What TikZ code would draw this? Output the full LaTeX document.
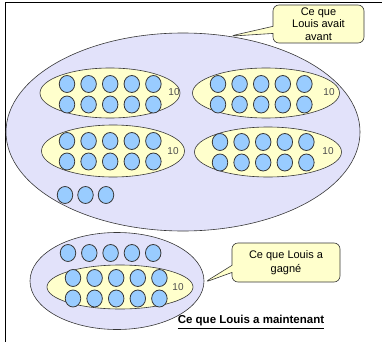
\documentclass[tikz,border=0pt]{standalone}
\usepackage{fontspec}
\setmainfont{Liberation Sans}
\usetikzlibrary{shapes.geometric,shapes.callouts}

\definecolor{lavande}{RGB}{226,226,250}
\definecolor{creme}{RGB}{255,255,204}
\definecolor{bleu}{RGB}{153,204,255}
\definecolor{trait}{RGB}{55,55,55}

\tikzset{
  ensemble/.style={ellipse, draw=trait, fill=lavande, line width=0.6pt, inner sep=0pt},
  dizaine/.style={ellipse, draw=trait, fill=creme, line width=0.6pt, inner sep=0pt},
  bille/.style={ellipse, draw=trait, fill=bleu, line width=0.8pt, inner sep=0pt,
    minimum width=15.5pt, minimum height=17pt},
  dix/.style={font=\fontsize{10}{10}\selectfont, text=black!70},
  bulle/.style={rectangle callout, rounded corners=6pt, draw=trait, fill=creme,
    line width=0.6pt, align=center, inner sep=0pt,
    font=\fontsize{11}{12.5}\selectfont}
}

\begin{document}
\begin{tikzpicture}[x=1pt,y=-1pt]
    \useasboundingbox (0,0) rectangle (382,342);
    % cadre
    \draw[line width=1pt] (382,3) -- (5,3) -- (5,342);

    % ce que Louis avait avant
    \node[ensemble, minimum width=354pt, minimum height=198pt] (avant) at (183,132) {};
    \node[dizaine, minimum width=140pt, minimum height=50pt] (d1) at (110,93) {};
    \node[dizaine, minimum width=147pt, minimum height=50pt] (d2) at (266,93) {};
    \node[dizaine, minimum width=143pt, minimum height=52pt] (d3) at (113,151) {};
    \node[dizaine, minimum width=147pt, minimum height=50pt] (d4) at (268,152) {};

    % ce que Louis a maintenant
    \node[ensemble, minimum width=174pt, minimum height=97pt] (maint) at (117,281) {};
    \node[dizaine, minimum width=146pt, minimum height=44pt] (d5) at (120,287) {};

    % les billes des dizaines
    \foreach \g/\x/\y in {d1/67/84, d2/218/84, d3/67/141, d4/220/142, d5/73/278}{
        \foreach \i in {0,...,4}{
            \node[bille] (\g-a\i) at (\x+21.6*\i,\y) {};
            \node[bille] (\g-b\i) at (\x+21.6*\i,\y+20.5) {};
        }
    }
    \node[dix] (n1) at (174,92) {10};
    \node[dix] (n2) at (329,92) {10};
    \node[dix] (n3) at (173,151) {10};
    \node[dix] (n4) at (328,151) {10};
    \node[dix] (n5) at (178,287) {10};

    % billes seules
    \foreach \i in {0,1,2}
        \node[bille] (u\i) at (65+20.5*\i,195) {};
    \foreach \i in {0,...,4}
        \node[bille] (v\i) at (68+21.3*\i,253) {};

    % bulles
    \node[bulle, minimum width=91pt, minimum height=38pt,
          callout absolute pointer={(avant.64)}] (b1) at (318.5,24)
          {Ce que\\Louis avait\\avant};
    \node[bulle, minimum width=108pt, minimum height=39pt,
          font=\fontsize{11}{14}\selectfont,
          callout absolute pointer={(maint.-1)}] (b2) at (286,262.5)
          {Ce que Louis a\\gagné};

    \node[font=\bfseries\fontsize{11.5}{12}\selectfont] (titre) at (251,322)
          {\underline{Ce que Louis a maintenant}};
\end{tikzpicture}
\end{document}
